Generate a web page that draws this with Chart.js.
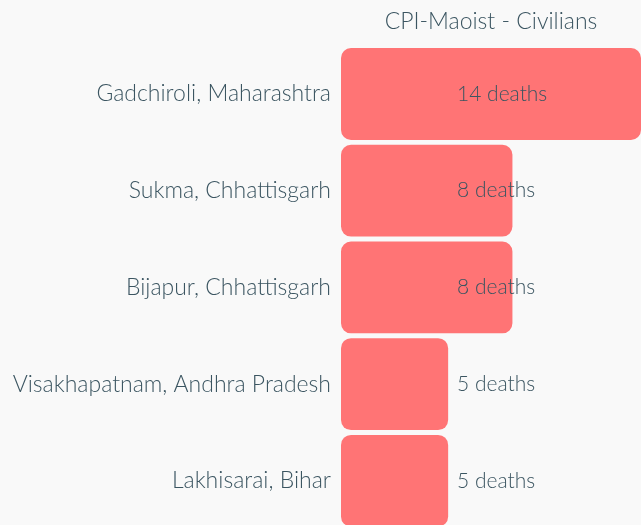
<!DOCTYPE html>
<html>
<head>
<meta charset="utf-8">
<script src="https://cdn.jsdelivr.net/npm/chart.js@4"></script>
<style>
  html, body { margin: 0; padding: 0; background: #f9f9f9; overflow: hidden; }
  #wrap { width: 641px; height: 545px; position: relative; }
</style>
</head>
<body>
<div id="wrap"><canvas id="chart"></canvas></div>
<script>
// Districts and civilian deaths
const districts = [
    'Gadchiroli, Maharashtra',
    'Sukma, Chhattisgarh',
    'Bijapur, Chhattisgarh',
    'Visakhapatnam, Andhra Pradesh',
    'Lakhisarai, Bihar'
];
const deaths = [14, 8, 8, 5, 5];
const chartTitle = 'CPI-Maoist - Civilians';

const textColor = '#3b5561';
const barColor = '#ff7475';
const fontFamily = 'Lato, "Open Sans", sans-serif';

// Draw "N deaths" labels next to the start of each bar
const deathLabels = {
    id: 'deathLabels',
    afterDatasetsDraw(chart) {
        const ctx = chart.ctx;
        const meta = chart.getDatasetMeta(0);
        const x = chart.chartArea.left + 116;
        ctx.save();
        ctx.font = '300 21px ' + fontFamily;
        ctx.fillStyle = textColor;
        ctx.textAlign = 'left';
        ctx.textBaseline = 'middle';
        meta.data.forEach((bar, i) => {
            ctx.fillText(deaths[i] + ' deaths', x, bar.y);
        });
        ctx.restore();
    }
};

new Chart(document.getElementById('chart'), {
    type: 'bar',
    data: {
        labels: districts,
        datasets: [{
            data: deaths,
            backgroundColor: barColor,
            borderRadius: 10,
            borderSkipped: false,
            barPercentage: 0.95,
            categoryPercentage: 1
        }]
    },
    options: {
        indexAxis: 'y',
        responsive: true,
        maintainAspectRatio: false,
        animation: false,
        layout: { padding: 0 },
        plugins: {
            legend: { display: false },
            tooltip: { enabled: false }
        },
        scales: {
            x: {
                position: 'top',
                min: 0,
                max: 14,
                grid: { display: false },
                border: { display: false },
                ticks: { display: false },
                title: {
                    display: true,
                    text: chartTitle,
                    color: textColor,
                    font: { family: fontFamily, size: 23, weight: '300' },
                    padding: { top: 8, bottom: 2 }
                }
            },
            y: {
                grid: { display: false },
                border: { display: false },
                afterFit(axis) { axis.width = 341; },
                ticks: {
                    color: textColor,
                    padding: 2,
                    font: { family: fontFamily, size: 23, weight: '300' }
                }
            }
        }
    },
    plugins: [deathLabels]
});
</script>
</body>
</html>
